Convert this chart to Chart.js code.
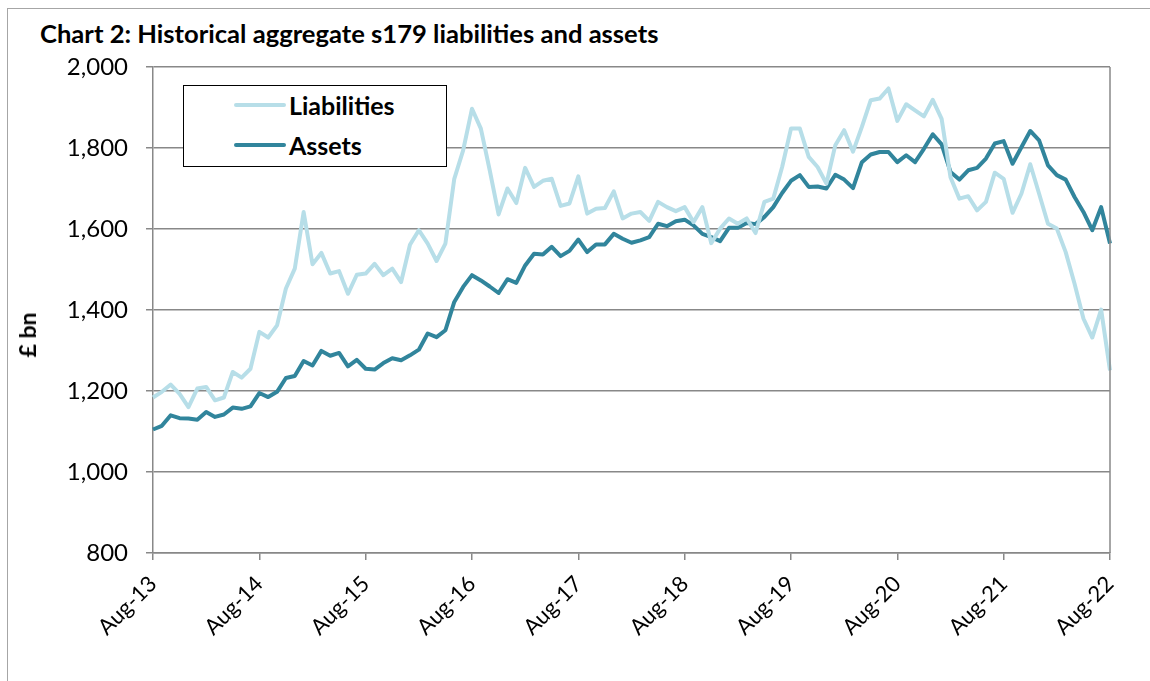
<!DOCTYPE html>
<html>
<head>
<meta charset="utf-8">
<script src="https://cdn.jsdelivr.net/npm/chart.js@4.4.1/dist/chart.umd.min.js"></script>
<style>
  html, body { margin: 0; padding: 0; background: #fff; }
  body { width: 1150px; height: 681px; position: relative; overflow: hidden; font-family: Lato, "Open Sans", sans-serif; }
  #frame { position: absolute; left: 7px; top: 8px; width: 1300px; height: 800px; border-left: 1.5px solid #a6a6a6; border-top: 1.5px solid #a6a6a6; }
  #title { position: absolute; left: 40px; top: 18px; font: bold 25.6px Lato, sans-serif; line-height: 30px; color: #000; white-space: nowrap; }
  #ytitle { position: absolute; left: 27px; top: 335px; transform: translate(-50%, -50%) rotate(-90deg); font: bold 23px Lato, sans-serif; line-height: 26px; color: #000; white-space: nowrap; }
  #c { position: absolute; left: 0; top: 0; }
  #legend { position: absolute; left: 183px; top: 85px; width: 262px; height: 80px; border: 1.5px solid #000; background: #fff; }
  .item { position: absolute; left: 0; height: 30px; width: 262px; }
  .swatch { position: absolute; left: 50px; top: 13px; width: 52px; height: 4px; border-radius: 2px; }
  .lbl { position: absolute; left: 105px; top: 0; font: bold 25px Lato, sans-serif; line-height: 30px; color: #000; }
</style>
</head>
<body>
<div id="frame"></div>
<div id="title">Chart 2: Historical aggregate s179 liabilities and assets</div>
<canvas id="c" width="1150" height="681"></canvas>
<div id="ytitle">£ bn</div>
<div id="legend"></div>
<script>
// ---- data (values in £ bn, monthly Aug-13 .. Aug-22) ----
const startYear = 2013, startMonth = 7; // August (0-based)
const monthNames = ['Jan','Feb','Mar','Apr','May','Jun','Jul','Aug','Sep','Oct','Nov','Dec'];
const liabilities = [
  1184,1198,1216,1193,1160,1206,1210,1177,1184,1247,1233,1255,
  1346,1332,1362,1453,1502,1642,1513,1541,1490,1496,1440,1487,
  1490,1514,1486,1502,1469,1561,1597,1564,1521,1564,1724,1794,
  1897,1848,1745,1636,1700,1664,1751,1704,1719,1724,1657,1663,
  1730,1638,1650,1652,1693,1626,1638,1642,1620,1667,1654,1644,
  1654,1617,1654,1565,1601,1626,1613,1626,1590,1667,1675,1753,
  1848,1848,1778,1753,1712,1807,1844,1791,1852,1918,1922,1947,
  1867,1908,1893,1878,1919,1872,1728,1675,1681,1646,1667,1739,
  1724,1640,1687,1760,1687,1613,1601,1543,1465,1379,1332,1401,
  1251
];
const assets = [
  1105,1114,1140,1133,1132,1129,1148,1136,1142,1159,1156,1162,
  1195,1185,1198,1232,1237,1274,1263,1299,1287,1294,1261,1277,
  1255,1253,1269,1281,1276,1288,1302,1342,1333,1350,1420,1457,
  1486,1473,1458,1442,1476,1467,1510,1539,1537,1556,1533,1546,
  1574,1543,1562,1562,1588,1576,1566,1572,1580,1613,1607,1619,
  1623,1609,1588,1580,1570,1603,1603,1615,1612,1630,1654,1689,
  1719,1733,1704,1705,1700,1734,1722,1701,1765,1784,1790,1790,
  1765,1782,1765,1798,1834,1809,1741,1722,1745,1751,1774,1811,
  1817,1761,1802,1842,1819,1757,1733,1722,1679,1642,1597,1654,
  1564
];
const yTicks = [800, 1000, 1200, 1400, 1600, 1800, 2000];
const seriesNames = ['Liabilities', 'Assets'];
const seriesColors = ['#b7dee8', '#31859c'];

const labels = liabilities.map((_, i) => {
  const m = (startMonth + i) % 12;
  const y = startYear + Math.floor((startMonth + i) / 12);
  return monthNames[m] + '-' + String(y % 100).padStart(2, '0');
});

// HTML legend
const legendEl = document.getElementById('legend');
seriesNames.forEach((name, k) => {
  const it = document.createElement('div');
  it.className = 'item';
  it.style.top = (k === 0 ? 4 : 44) + 'px';
  it.innerHTML = '<span class="swatch" style="background:' + seriesColors[k] + '"></span><span class="lbl">' + name + '</span>';
  legendEl.appendChild(it);
});

const rightBorder = {
  id: 'rightBorder',
  afterDraw(chart) {
    const { ctx, chartArea } = chart;
    ctx.save();
    ctx.strokeStyle = '#888888';
    ctx.lineWidth = 1.5;
    ctx.beginPath();
    ctx.moveTo(chartArea.right, chartArea.top);
    ctx.lineTo(chartArea.right, chartArea.bottom);
    ctx.stroke();
    ctx.restore();
  }
};

Chart.defaults.font.family = 'Lato, "Open Sans", sans-serif';
Chart.defaults.color = '#000';

new Chart(document.getElementById('c'), {
  type: 'line',
  data: {
    labels: labels,
    datasets: [
      { label: seriesNames[0], data: liabilities, borderColor: seriesColors[0], backgroundColor: seriesColors[0], borderWidth: 4, pointRadius: 0, tension: 0, borderJoinStyle: 'round' },
      { label: seriesNames[1], data: assets, borderColor: seriesColors[1], backgroundColor: seriesColors[1], borderWidth: 4, pointRadius: 0, tension: 0, borderJoinStyle: 'round' }
    ]
  },
  options: {
    responsive: false,
    animation: false,
    devicePixelRatio: 1,
    layout: { padding: { left: 15, right: 40, top: 67, bottom: 0 } },
    plugins: { legend: { display: false }, title: { display: false }, tooltip: { enabled: false } },
    scales: {
      x: {
        type: 'category',
        offset: false,
        afterFit(scale) { scale.height = 128; },
        grid: { display: true, drawOnChartArea: false, drawTicks: true, tickLength: 7, color: '#888888', lineWidth: 1.5 },
        border: { display: true, color: '#888888', width: 1.5 },
        ticks: {
          autoSkip: false, maxRotation: 45, minRotation: 45, padding: 11,
          font: { size: 22 }, color: '#000',
          callback: (v, i) => (i % 12 === 0 ? labels[i] : null)
        }
      },
      y: {
        min: 800, max: 2000,
        afterFit(scale) { scale.width = 138; },
        afterBuildTicks(scale) { scale.ticks = yTicks.map(v => ({ value: v })); },
        grid: { color: '#888888', lineWidth: 1.5, tickLength: 7, drawTicks: true },
        border: { display: true, color: '#888888', width: 1.5 },
        ticks: {
          padding: 18, font: { size: 24 }, color: '#000',
          callback: v => v.toLocaleString('en-US')
        }
      }
    }
  },
  plugins: [rightBorder]
});
</script>
</body>
</html>
